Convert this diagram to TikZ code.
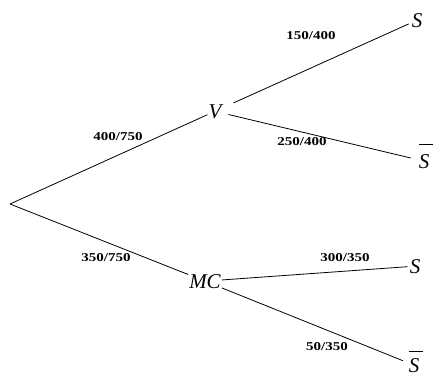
\documentclass[tikz,border=0pt]{standalone}
\usepackage{fontspec}
\setmainfont{Liberation Serif}
\newfontfamily\labfont[FakeStretch=1.25]{Liberation Serif}
\newcommand\barS[1]{\makebox[0pt][l]{\smash{\raisebox{#1}{\rule{14pt}{0.9pt}}}}S}
\begin{document}
\begin{tikzpicture}[x=1pt,y=-1pt,
  event/.style={font=\fontsize{21}{24}\selectfont\itshape, inner sep=1pt, anchor=base},
  prob/.style={font=\labfont\bfseries\fontsize{12}{14}\selectfont, inner sep=0pt},
  branch/.style={line width=0.8pt}]
\useasboundingbox (0,0) rectangle (433,376);
\coordinate (root) at (10,204);
\node[event] (V) at (215,118) {V};
\node[event] (MC) at (205,288) {MC};
\node[event] (S1) at (417,27) {S};
\node[event] (S2) at (424,168) {\barS{23pt}};
\node[event] (S3) at (415,273) {S};
\node[event] (S4) at (414,372) {\barS{20pt}};
\draw[branch] (root) -- (V);
\draw[branch] (root) -- (MC);
\draw[branch, shorten <=12pt, shorten >=2pt] (V) -- (S1);
\draw[branch, shorten <=6pt, shorten >=7pt] (V) -- (S2);
\draw[branch, shorten >=1pt] (MC) -- (S3);
\draw[branch, shorten >=5pt] (MC) -- (S4);
\node[prob] (p1) at (311,36) {150/400};
\node[prob] (p2) at (302,142) {250/400};
\node[prob] (p3) at (118,137) {400/750};
\node[prob] (p4) at (106,258) {350/750};
\node[prob] (p5) at (345,258) {300/350};
\node[prob] (p6) at (327,347) {50/350};
\end{tikzpicture}
\end{document}
